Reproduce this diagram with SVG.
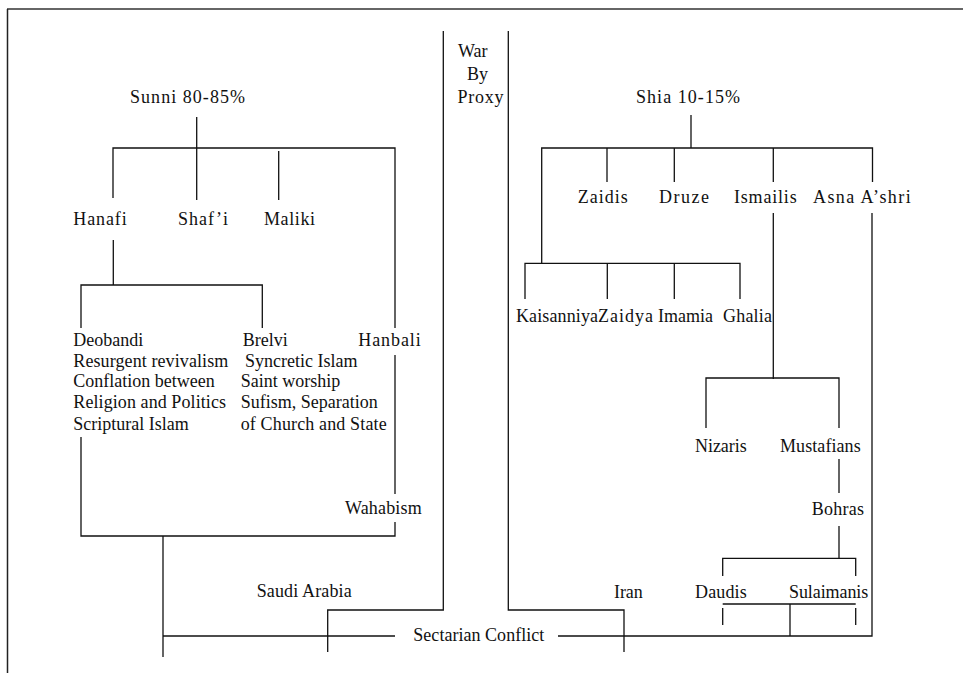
<svg xmlns="http://www.w3.org/2000/svg" width="963" height="673" viewBox="0 0 963 673">
<style>
text{font-family:"Liberation Serif","Times New Roman",serif;font-size:18px;fill:#111;}
.c path{fill:none;stroke:#111;stroke-width:1.3;}
</style>
<rect width="963" height="673" fill="#fff"/>
<g id="frame">
<line x1="7" y1="9" x2="963" y2="9" stroke="#666" stroke-width="2"/>
<line x1="7.5" y1="9" x2="7.5" y2="673" stroke="#222" stroke-width="1.5"/>
</g>
<g class="c" id="connectors">
<path d="M196.7,117 V148"/>
<path d="M113,198 V148 H395 V328"/>
<path d="M196.7,148 V200"/>
<path d="M278.7,151 V200"/>
<path d="M113.3,240 V285"/>
<path d="M81,328 V285 H262.3 V328"/>
<path d="M395,355 V494"/>
<path d="M81,437 V536 H395 V522"/>
<path d="M163,536 V657"/>
<path d="M163,636 H395"/>
<path d="M558,636 H872 V213"/>
<path d="M443.3,31 V610 H327.7 V652"/>
<path d="M508.3,31 V610 H624 V652"/>
<path d="M691,115 V148"/>
<path d="M541.7,263.3 V148 H872.5 V182"/>
<path d="M607,148 V182"/>
<path d="M674.3,148 V182"/>
<path d="M773.3,148 V182"/>
<path d="M773.3,213 V379"/>
<path d="M525,299 V263.3 H740 V299"/>
<path d="M607.3,263.3 V299"/>
<path d="M674.3,263.3 V299"/>
<path d="M706,428 V378 H839 V428"/>
<path d="M839,459 V493"/>
<path d="M839,526 V558.3"/>
<path d="M722.7,576 V558.3 H855.7 V576"/>
<path d="M722.7,604 H855.7"/>
<path d="M722.7,608 V625"/>
<path d="M855.7,608 V625"/>
<path d="M790,604 V636"/>
</g>
<g id="sunni"><text x="130" y="103" textLength="115" lengthAdjust="spacing">Sunni 80-85%</text></g>
<g id="war-by-proxy">
<text x="458" y="57">War</text>
<text x="467" y="80">By</text>
<text x="457.5" y="103" textLength="46" lengthAdjust="spacing">Proxy</text>
</g>
<g id="shia"><text x="636" y="103" textLength="104" lengthAdjust="spacing">Shia 10-15%</text></g>
<g id="hanafi"><text x="73.3" y="225" textLength="53.4" lengthAdjust="spacing">Hanafi</text></g>
<g id="shafi"><text x="178" y="225" textLength="50" lengthAdjust="spacing">Shaf’i</text></g>
<g id="maliki"><text x="264" y="225" textLength="51" lengthAdjust="spacing">Maliki</text></g>
<g id="hanbali"><text x="358.3" y="346" textLength="62.4" lengthAdjust="spacing">Hanbali</text></g>
<g id="deobandi">
<text x="73.3" y="346">Deobandi</text>
<text x="73.3" y="366.7" textLength="155" lengthAdjust="spacing">Resurgent revivalism</text>
<text x="73.3" y="387.3">Conflation between</text>
<text x="73.3" y="408.3" textLength="152.7" lengthAdjust="spacing">Religion and Politics</text>
<text x="73.3" y="430">Scriptural Islam</text>
</g>
<g id="brelvi">
<text x="242.7" y="346">Brelvi</text>
<text x="245" y="366.7">Syncretic Islam</text>
<text x="240.7" y="387.3">Saint worship</text>
<text x="240.7" y="408.3">Sufism, Separation</text>
<text x="240.7" y="430" textLength="146" lengthAdjust="spacing">of Church and State</text>
</g>
<g id="wahabism"><text x="345" y="514" textLength="76.7" lengthAdjust="spacing">Wahabism</text></g>
<g id="saudi-arabia"><text x="256.7" y="597" textLength="95" lengthAdjust="spacing">Saudi Arabia</text></g>
<g id="sectarian-conflict"><text x="413.3" y="640.7" textLength="131" lengthAdjust="spacing">Sectarian Conflict</text></g>
<g id="zaidis"><text x="577.7" y="203" textLength="50" lengthAdjust="spacing">Zaidis</text></g>
<g id="druze"><text x="659" y="203" textLength="50" lengthAdjust="spacing">Druze</text></g>
<g id="ismailis"><text x="734" y="203" textLength="62.7" lengthAdjust="spacing">Ismailis</text></g>
<g id="asna-ashri"><text x="813" y="203" textLength="97.7" lengthAdjust="spacing">Asna A’shri</text></g>
<g id="kaisanniya"><text x="516" y="321.7" textLength="82" lengthAdjust="spacing">Kaisanniya</text></g>
<g id="zaidya"><text x="598" y="321.7" textLength="55" lengthAdjust="spacing">Zaidya</text></g>
<g id="imamia"><text x="658" y="321.7" textLength="55" lengthAdjust="spacing">Imamia</text></g>
<g id="ghalia"><text x="723" y="321.7" textLength="49" lengthAdjust="spacing">Ghalia</text></g>
<g id="nizaris"><text x="695" y="451.7" textLength="51.7" lengthAdjust="spacing">Nizaris</text></g>
<g id="mustafians"><text x="780" y="451.7" textLength="80.7" lengthAdjust="spacing">Mustafians</text></g>
<g id="bohras"><text x="811.7" y="515" textLength="52.3" lengthAdjust="spacing">Bohras</text></g>
<g id="iran"><text x="614" y="598" textLength="28.7" lengthAdjust="spacing">Iran</text></g>
<g id="daudis"><text x="695" y="598" textLength="51.7" lengthAdjust="spacing">Daudis</text></g>
<g id="sulaimanis"><text x="789" y="598" textLength="79.3" lengthAdjust="spacing">Sulaimanis</text></g>
</svg>
